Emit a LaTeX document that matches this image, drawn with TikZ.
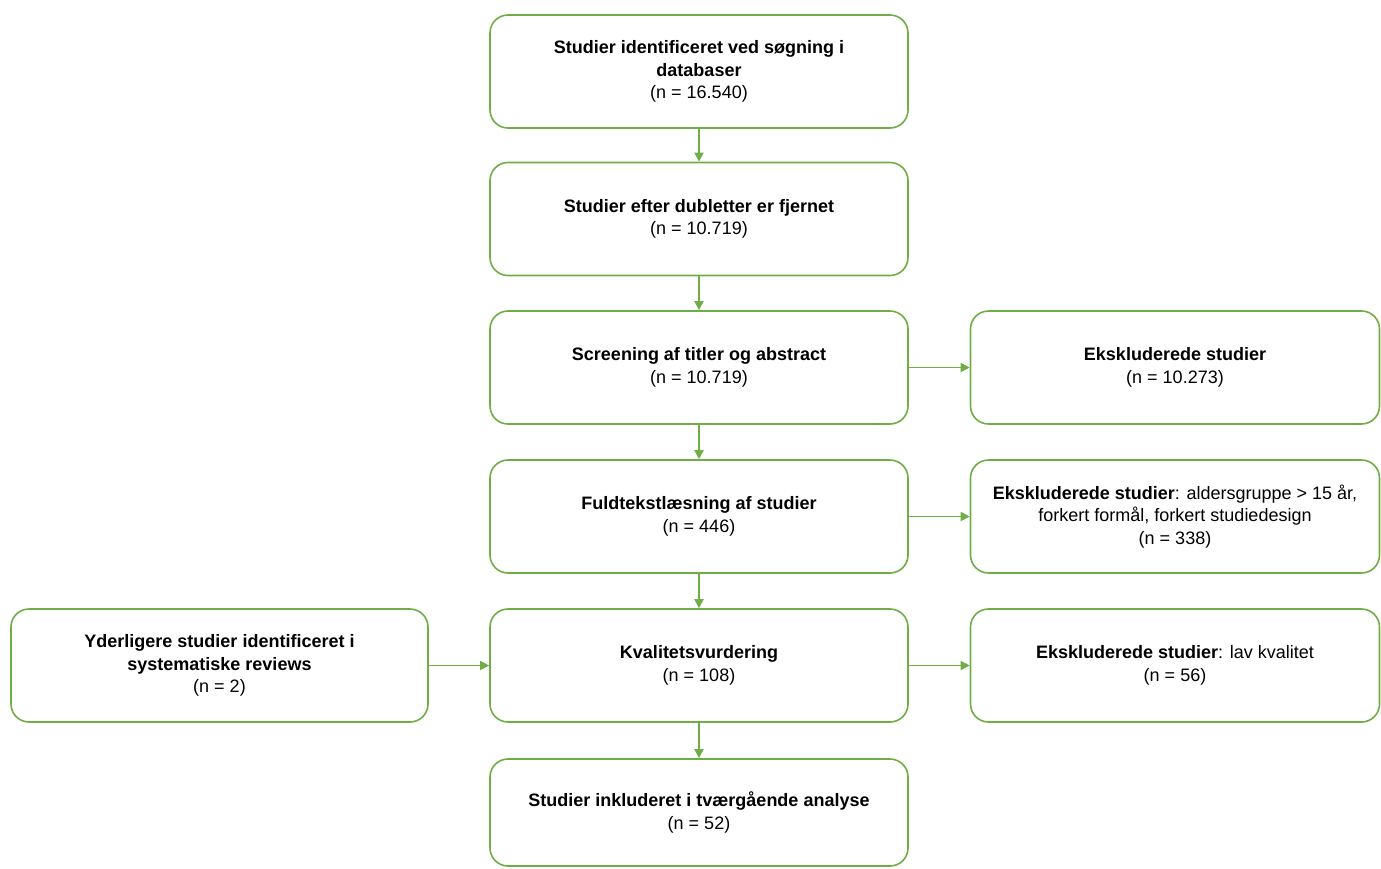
\documentclass[tikz,border=0pt]{standalone}
\usepackage{fontspec}
\setmainfont{Liberation Sans}
\usetikzlibrary{arrows.meta}
\definecolor{pgreen}{RGB}{112,173,71}
\begin{document}
\begin{tikzpicture}[x=1pt,y=-1pt,
  box/.style={draw=pgreen, line width=1.6pt, rounded corners=18pt, align=center,
    font=\fontsize{18}{22.5}\selectfont, text=black, inner sep=0pt},
  cbox/.style={box, minimum width=418pt, minimum height=113pt},
  conn/.style={draw=pgreen, line width=1.8pt, -{Triangle[length=9pt,width=9pt]}}]
\useasboundingbox (0,0) rectangle (1381,868);
\node[cbox] (b1) at (699,71.5) {\textbf{Studier identificeret ved søgning i}\\\textbf{databaser}\\(n = 16.540)};
\node[cbox] (b2) at (699,219) {\textbf{Studier efter dubletter er fjernet}\\(n = 10.719)};
\node[cbox] (b3) at (699,367.5) {\textbf{Screening af titler og abstract}\\(n = 10.719)};
\node[cbox] (b4) at (699,516.5) {\textbf{Fuldtekstlæsning af studier}\\(n = 446)};
\node[cbox] (b5) at (699,665.5) {\textbf{Kvalitetsvurdering}\\(n = 108)};
\node[box, minimum width=418pt, minimum height=107pt] (b6) at (699,812.5) {\textbf{Studier inkluderet i tværgående analyse}\\(n = 52)};
\node[box, minimum width=409pt, minimum height=113pt] (r1) at (1175,367.5) {\textbf{Ekskluderede studier}\\(n = 10.273)};
\node[box, minimum width=409pt, minimum height=113pt] (r2) at (1175,516.5) {\textbf{Ekskluderede studier}: aldersgruppe > 15 år,\\forkert formål, forkert studiedesign\\(n = 338)};
\node[box, minimum width=409pt, minimum height=113pt] (r3) at (1175,665.5) {\textbf{Ekskluderede studier}: lav kvalitet\\(n = 56)};
\node[box, minimum width=417pt, minimum height=113pt] (l1) at (219.5,665.5) {\textbf{Yderligere studier identificeret i}\\\textbf{systematiske reviews}\\(n = 2)};
\draw[conn] (b1) -- (b2);
\draw[conn] (b2) -- (b3);
\draw[conn] (b3) -- (b4);
\draw[conn] (b4) -- (b5);
\draw[conn] (b5) -- (b6);
\draw[conn] (b3) -- (r1);
\draw[conn] (b4) -- (r2);
\draw[conn] (b5) -- (r3);
\draw[conn] (l1) -- (b5);
\end{tikzpicture}
\end{document}
